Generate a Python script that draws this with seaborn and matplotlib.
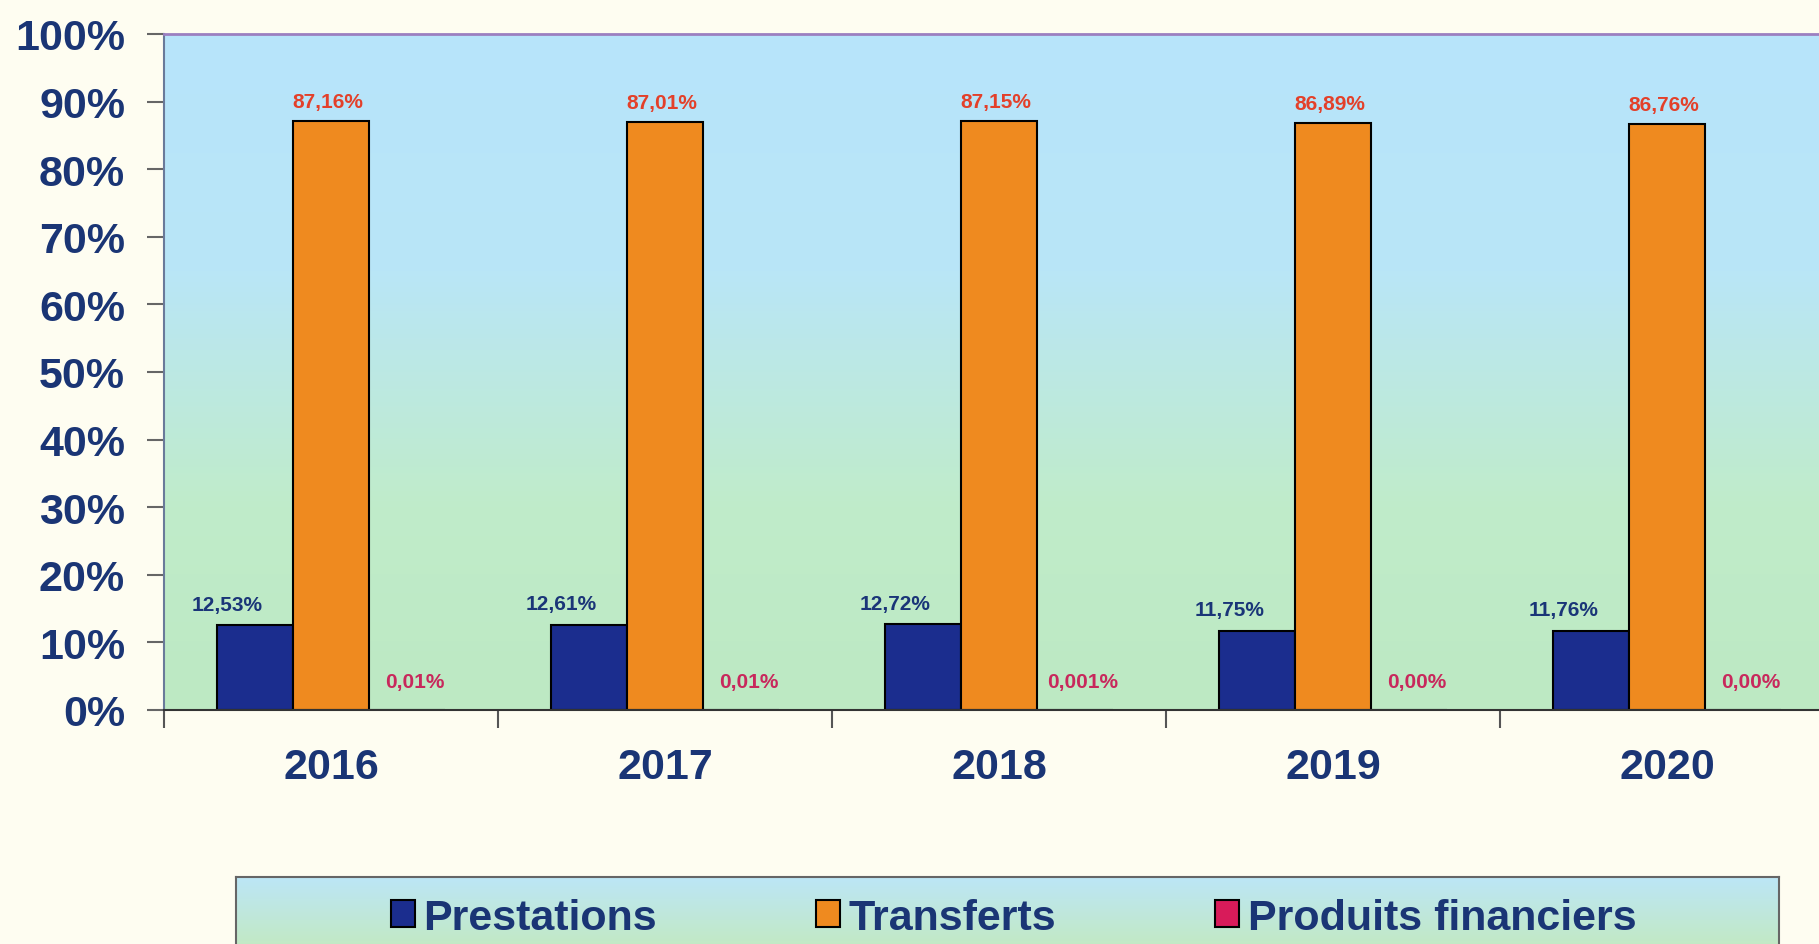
import numpy as np
import pandas as pd
import seaborn as sns
import matplotlib.pyplot as plt
from matplotlib.colors import LinearSegmentedColormap

years = ["2016", "2017", "2018", "2019", "2020"]
series = ["Prestations", "Transferts", "Produits financiers"]
prestations = [12.53, 12.61, 12.72, 11.75, 11.76]
transferts = [87.16, 87.01, 87.15, 86.89, 86.76]
produits = [0.01, 0.01, 0.001, 0.00, 0.00]
label_prestations = ["12,53%", "12,61%", "12,72%", "11,75%", "11,76%"]
label_transferts = ["87,16%", "87,01%", "87,15%", "86,89%", "86,76%"]
label_produits = ["0,01%", "0,01%", "0,001%", "0,00%", "0,00%"]
yticks = [0, 10, 20, 30, 40, 50, 60, 70, 80, 90, 100]

bar_colors = ["#1b2d8e", "#ef8a1f", "#d81b5a"]
label_colors = ["#1a3578", "#e3402a", "#c8285c"]
navy = "#1a3575"

sns.set_style("white")
plt.rcParams["font.family"] = ["Liberation Sans", "DejaVu Sans"]

df = pd.DataFrame({
    "year": years * 3,
    "serie": [s for s in series for _ in years],
    "value": prestations + transferts + produits,
})

W, H = 1819, 945
fig = plt.figure(figsize=(W / 100, H / 100), dpi=100, facecolor="#fefdf1")
ax = fig.add_axes([164 / W, 1 - 711 / H, 1670 / W, (711 - 35) / H])
ax.set_facecolor("none")

# gradient background blue -> green
bg = LinearSegmentedColormap.from_list(
    "bg", [(0, "#b7e4fb"), (0.35, "#b9e6f7"), (0.7, "#c0ecca"), (1, "#bde9c3")])
ax.imshow(np.linspace(0, 1, 256).reshape(-1, 1), cmap=bg, aspect="auto",
          extent=[0, 1, 0, 1], transform=ax.transAxes, zorder=0)

sns.barplot(data=df, x="year", y="value", hue="serie", hue_order=series,
            palette=bar_colors, saturation=1, width=0.68, gap=0,
            edgecolor="black", linewidth=1.5, legend=False, ax=ax, zorder=2)

labels = [label_prestations, label_transferts, label_produits]
offsets = [(-28, 21), (-3, 19), (8, 28)]
for cont, labs, col, off in zip(ax.containers, labels, label_colors, offsets):
    for bar, lab in zip(cont, labs):
        ax.annotate(lab, (bar.get_x() + bar.get_width() / 2, bar.get_height()),
                    xytext=off, textcoords="offset pixels", ha="center", va="center",
                    fontsize=15, fontweight="bold", color=col, zorder=3)

ax.set_xlim(-0.5, 4.5)
ax.set_ylim(0, 100)
ax.set_yticks(yticks)
ax.set_yticklabels([f"{v}%" for v in yticks])
ax.set_xticks(range(len(years)))
ax.set_xticklabels(years)
ax.set_xticks(np.arange(-0.5, 5, 1), minor=True)
ax.set_xlabel("")
ax.set_ylabel("")

ax.tick_params(axis="y", left=True, length=12, width=1.5, color="#666666",
               pad=16, labelsize=31, labelcolor=navy)
ax.tick_params(axis="x", which="major", length=0, pad=27, labelsize=31, labelcolor=navy)
ax.tick_params(axis="x", which="minor", bottom=True, length=13, width=1.5, color="#555555")
for lbl in ax.get_yticklabels() + ax.get_xticklabels():
    lbl.set_fontweight("bold")

ax.spines["top"].set_color("#9b7fc0")
ax.spines["top"].set_linewidth(2)
ax.spines["right"].set_visible(False)
ax.spines["left"].set_color("#6a7a9a")
ax.spines["left"].set_linewidth(1.5)
ax.spines["bottom"].set_color("#333333")
ax.spines["bottom"].set_linewidth(1.5)

# legend box
lax = fig.add_axes([236 / W, -0.02, (1779 - 236) / W, (H - 878) / H + 0.02])
lbg = LinearSegmentedColormap.from_list("lbg", ["#bce6f6", "#c4eab8"])
lax.imshow(np.linspace(0, 1, 64).reshape(-1, 1), cmap=lbg, aspect="auto",
           extent=[0, 1, 0, 1], transform=lax.transAxes)
lax.set_xticks([])
lax.set_yticks([])
for sp in lax.spines.values():
    sp.set_color("#666666")
    sp.set_linewidth(1.5)

leg = lax.legend(ax.containers, series, loc="center left",
                 bbox_to_anchor=(391 / W, 1 - 919 / H), bbox_transform=fig.transFigure,
                 ncol=3, frameon=False, borderpad=0, borderaxespad=0,
                 handlelength=0.55, handleheight=0.6, handletextpad=0.2,
                 columnspacing=3.7, labelcolor=navy,
                 prop={"family": "Liberation Sans", "weight": "bold", "size": 31})

fig.savefig("out.png", dpi=100, facecolor=fig.get_facecolor())
